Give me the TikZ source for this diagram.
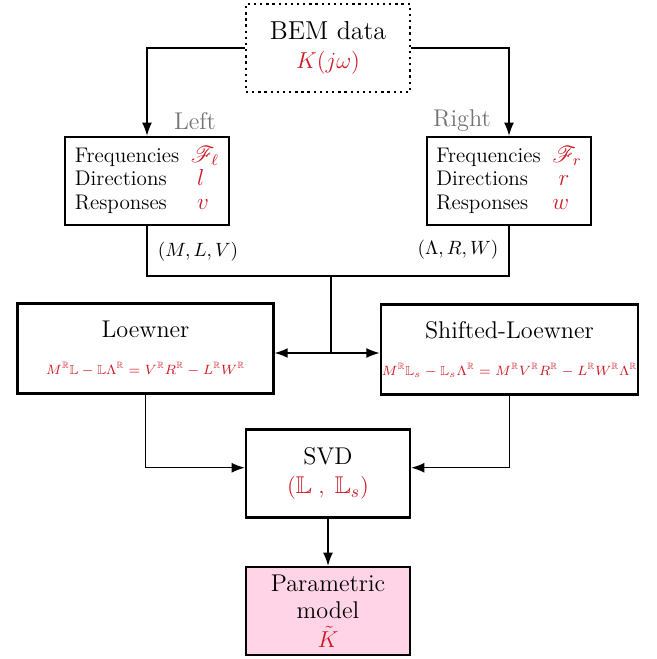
\documentclass[tikz,border=0pt]{standalone}
\usepackage{amsmath,amssymb}
\usepackage{mathrsfs}
\usetikzlibrary{arrows.meta}
\definecolor{myred}{RGB}{205,25,35}
\definecolor{mypink}{RGB}{255,212,230}
\newcommand{\bigtxt}{\fontsize{13.5}{16}\selectfont}
\newcommand{\midtxt}{\fontsize{12.6}{15}\selectfont}
\newcommand{\tabtxt}{\fontsize{11}{12.2}\selectfont}
\newcommand{\eqtxt}{\fontsize{6.8}{8}\selectfont}
\begin{document}
\begin{tikzpicture}[x=0.0183cm,y=-0.0183cm,>={Latex[length=2.4mm,width=1.8mm]},
    block/.style={shape=rectangle,draw=black,line width=1.2pt,minimum width=3cm,minimum height=1.61cm,align=center},
    wide/.style={block,inner xsep=0.5pt,minimum width=4.68cm,minimum height=1.65cm},
    link/.style={line width=0.75pt}]
        \useasboundingbox (0,0) rectangle (656,659);
        \node[block,dotted,line width=1.4pt] (bem) at (328,48) {\bigtxt BEM data\\[3pt] \fontsize{11.5}{14}\selectfont\color{myred}$K(j\omega)$};
        \node[block] (left) at (147,181) {\tabtxt\begin{tabular}{@{}l@{\hspace{6pt}}l@{}}Frequencies & \large\color{myred}$\mathscr{F}_\ell$\\ Directions & \large\color{myred}$\;l$\\ Responses & \large\color{myred}$\;v$\end{tabular}};
        \node[block] (right) at (509,181) {\tabtxt\begin{tabular}{@{}l@{\hspace{6pt}}l@{}}Frequencies & \large\color{myred}$\mathscr{F}_r$\\ Directions & \large\color{myred}$\;r$\\ Responses & \large\color{myred}$w$\end{tabular}};
        \node[wide] (loew) at (145.5,348.5) {\midtxt Loewner\\[7pt] \eqtxt\color{myred}$M^{\mathbb{R}}\mathbb{L}-\mathbb{L}\Lambda^{\mathbb{R}}=V^{\mathbb{R}}R^{\mathbb{R}}-L^{\mathbb{R}}W^{\mathbb{R}}$};
        \node[wide] (shift) at (509.5,349.5) {\midtxt Shifted-Loewner\\[7pt] \eqtxt\color{myred}$M^{\mathbb{R}}\mathbb{L}_s-\mathbb{L}_s\Lambda^{\mathbb{R}}=M^{\mathbb{R}}V^{\mathbb{R}}R^{\mathbb{R}}-L^{\mathbb{R}}W^{\mathbb{R}}\Lambda^{\mathbb{R}}$};
        \node[block] (svd) at (328,473.5) {\midtxt SVD\\[3pt] \midtxt\color{myred}$(\mathbb{L}\;,\;\mathbb{L}_s)$};
        \node[block,fill=mypink] (param) at (328,611) {\midtxt Parametric\\[2pt] \midtxt model\\[3pt] \midtxt\color{myred}$\tilde{K}$};

        % side labels
        \node[text=black!55] (lbl) at (195,121) {\midtxt Left};
        \node[text=black!55] (rbl) at (462,121) {\midtxt Right};
        \node (lset) at (198,252) {$(M,L,V)$};
        \node (rset) at (458,250) {$(\Lambda,R,W)$};

        % data split
        \draw[link,->] (bem.west) -| (left.north);
        \draw[link,->] (bem.east) -| (right.north);

        % merge and feed both builders
        \coordinate (bus) at (331,276);
        \coordinate (hub) at (331,353);
        \draw[link] (left.south) |- (bus);
        \draw[link] (right.south) |- (bus);
        \draw[link] (bus) -- (hub);
        \draw[link,->] (hub) -- (loew.east |- hub);
        \draw[link,->] (hub) -- (shift.west |- hub);

        % reduction
        \draw[link,->] (loew.south) |- ([yshift=3pt]svd.west);
        \draw[link,->] (shift.south) |- ([yshift=3pt]svd.east);
        \draw[link,->] (svd.south) -- (param.north);
\end{tikzpicture}
\end{document}
